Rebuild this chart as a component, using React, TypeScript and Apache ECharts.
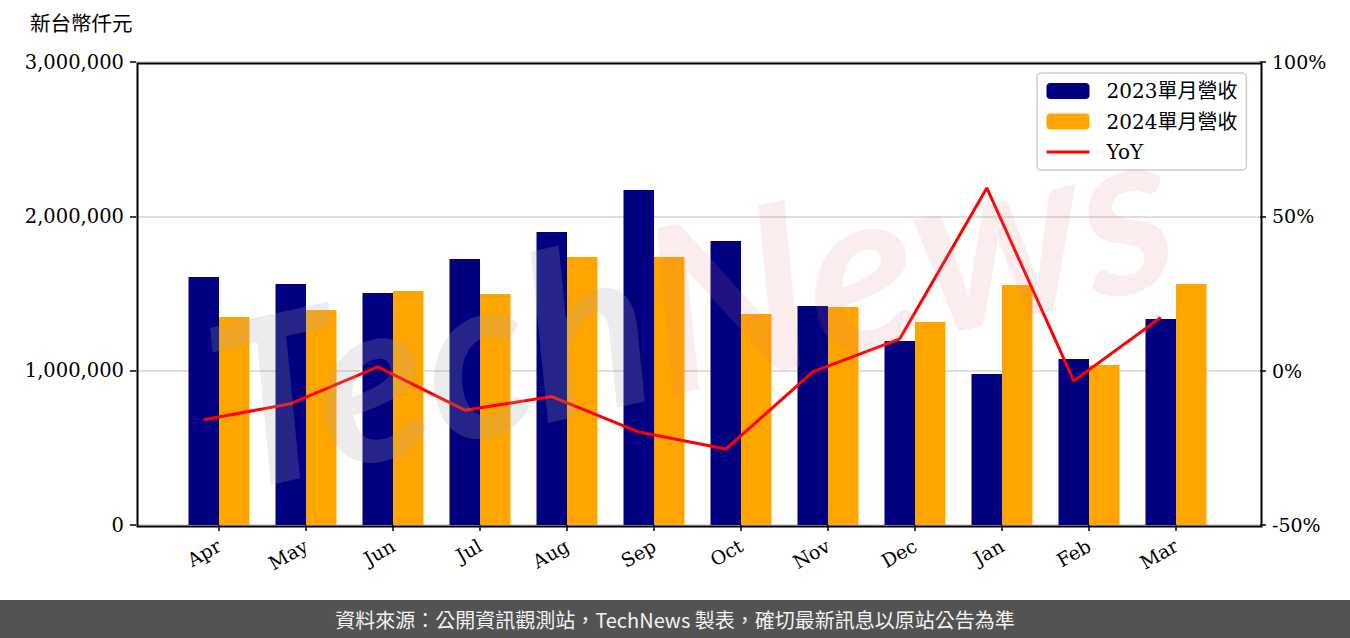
import React, { useEffect, useRef } from "react";
import * as echarts from "echarts";

const months = ["Apr", "May", "Jun", "Jul", "Aug", "Sep", "Oct", "Nov", "Dec", "Jan", "Feb", "Mar"];
const rev2023 = [1607000, 1562000, 1503000, 1724000, 1899000, 2171000, 1840000, 1419000, 1192000, 978000, 1076000, 1335000];
const rev2024 = [1348000, 1393000, 1516000, 1497000, 1737000, 1737000, 1367000, 1413000, 1315000, 1555000, 1037000, 1562000];
const yoy = [-15.9, -10.7, 1.2, -12.8, -8.4, -19.9, -25.4, -0.4, 10.3, 59.2, -3.3, 17.2];
const leftTicks = [0, 1000000, 2000000, 3000000];
const rightTicks = [-50, 0, 50, 100];

const serif = "'DejaVu Serif', 'Noto Sans CJK TC', serif";
const cjk = "'Noto Sans CJK TC', sans-serif";

export default function App() {
  const ref = useRef<HTMLDivElement>(null);
  useEffect(() => {
    document.body.style.margin = "0";
    if (!ref.current) return;
    const chart = echarts.init(ref.current, null, { renderer: "svg" });
    const tick = { show: true, length: 6, lineStyle: { color: "#000", width: 1.5 } };
    const option = {
      animation: false,
      backgroundColor: "#ffffff",
      grid: [
        { left: 136, top: 62, width: 1124, height: 463, show: false },
        { left: 175.5, top: 62, width: 1044, height: 463, show: false },
      ],
      legend: {
        orient: "vertical",
        left: 1037,
        top: 73,
        padding: [8, 9, 8, 8],
        itemWidth: 43,
        itemHeight: 16,
        itemGap: 10.5,
        borderColor: "#cccccc",
        borderWidth: 1.5,
        borderRadius: 4,
        backgroundColor: "rgba(255,255,255,0.8)",
        data: [
          { name: "2023單月營收" },
          { name: "2024單月營收" },
          { name: "YoY", itemStyle: { opacity: 0 }, lineStyle: { width: 3, color: "#ff0000" } },
        ],
        textStyle: { fontFamily: serif, fontSize: 20, lineHeight: 19, color: "#000", padding: [0, 0, 0, 12] },
      },
      xAxis: [
        {
          type: "value",
          gridIndex: 0,
          min: -0.96,
          max: 11.96,
          axisLine: { show: false, onZero: false },
          axisTick: { show: false },
          axisLabel: { show: false },
          splitLine: { show: false },
        },
        {
          type: "category",
          gridIndex: 1,
          data: months,
          boundaryGap: true,
          axisLine: { show: false, onZero: false },
          axisTick: { ...tick, alignWithLabel: true },
          axisLabel: { rotate: 30, fontFamily: serif, fontSize: 19, color: "#000", margin: 19 },
        },
      ],
      yAxis: [
        {
          type: "value",
          gridIndex: 0,
          position: "left",
          min: 0,
          max: 3000000,
          interval: 1000000,
          axisLine: { show: false, onZero: false },
          axisTick: tick,
          axisLabel: {
            fontFamily: serif,
            fontSize: 19.5,
            color: "#000",
            margin: 12,
            formatter: (v: number) => (leftTicks.includes(v) ? v.toLocaleString("en-US") : ""),
          },
          splitLine: { show: true, lineStyle: { color: "#d3d3d3", width: 1.5 } },
        },
        {
          type: "value",
          gridIndex: 0,
          position: "right",
          min: -50,
          max: 100,
          interval: 50,
          axisLine: { show: false, onZero: false },
          axisTick: tick,
          axisLabel: {
            fontFamily: serif,
            fontSize: 19,
            color: "#000",
            margin: 12,
            formatter: (v: number) => (rightTicks.includes(v) ? v + "%" : ""),
          },
          splitLine: { show: false },
        },
        {
          type: "value",
          gridIndex: 1,
          min: 0,
          max: 3000000,
          show: false,
          axisLine: { show: false, onZero: false },
          axisTick: { show: false },
          axisLabel: { show: false },
          splitLine: { show: false },
        },
      ],
      series: [
        {
          name: "2023單月營收",
          type: "bar",
          xAxisIndex: 1,
          yAxisIndex: 2,
          data: rev2023,
          barWidth: 30.5,
          barGap: "0%",
          itemStyle: { color: "#000080" },
        },
        {
          name: "2024單月營收",
          type: "bar",
          xAxisIndex: 1,
          yAxisIndex: 2,
          data: rev2024,
          barWidth: 30.5,
          barGap: "0%",
          itemStyle: { color: "#FFA500" },
        },
        {
          name: "YoY",
          type: "line",
          xAxisIndex: 0,
          yAxisIndex: 1,
          data: yoy.map((v, i) => [i - 0.18, v]),
          symbol: "none",
          lineStyle: { color: "#ff0000", width: 3 },
          itemStyle: { color: "#ff0000" },
          z: 5,
        },
      ],
      graphic: [
        {
          type: "rect",
          left: 135,
          top: 61,
          z: 20,
          silent: true,
          shape: { x: 136, y: 62, width: 1124, height: 463 },
          style: { fill: "none", stroke: "#000", lineWidth: 2 },
        },
        {
          type: "text",
          left: 30,
          top: 12,
          style: { text: "新台幣仟元", font: "20.5px " + cjk, fill: "#000" },
        },
        {
          type: "text",
          x: 690,
          y: 300,
          rotation: 0.22,
          z: 10,
          silent: true,
          style: {
            text: "{a|Tech}{b|News}",
            align: "center",
            verticalAlign: "middle",
            rich: {
              a: { fontSize: 230, fontFamily: "Lato", fontStyle: "italic", fontWeight: "bold", fill: "rgba(170,170,170,0.22)" },
              b: { fontSize: 230, fontFamily: "Lato", fontStyle: "italic", fontWeight: "bold", fill: "rgba(225,120,130,0.14)" },
            },
          },
        },
        {
          type: "rect",
          left: 0,
          top: 600,
          shape: { width: 1350, height: 38 },
          style: { fill: "#535353" },
        },
        {
          type: "text",
          x: 675,
          y: 619,
          style: {
            text: "資料來源：公開資訊觀測站，TechNews 製表，確切最新訊息以原站公告為準",
            font: "20px " + cjk,
            fill: "#f2f2f2",
            align: "center",
            verticalAlign: "middle",
          },
        },
      ],
    };
    chart.setOption(option as any);
    return () => chart.dispose();
  }, []);
  return <div ref={ref} style={{ width: 1350, height: 638 }} />;
}
